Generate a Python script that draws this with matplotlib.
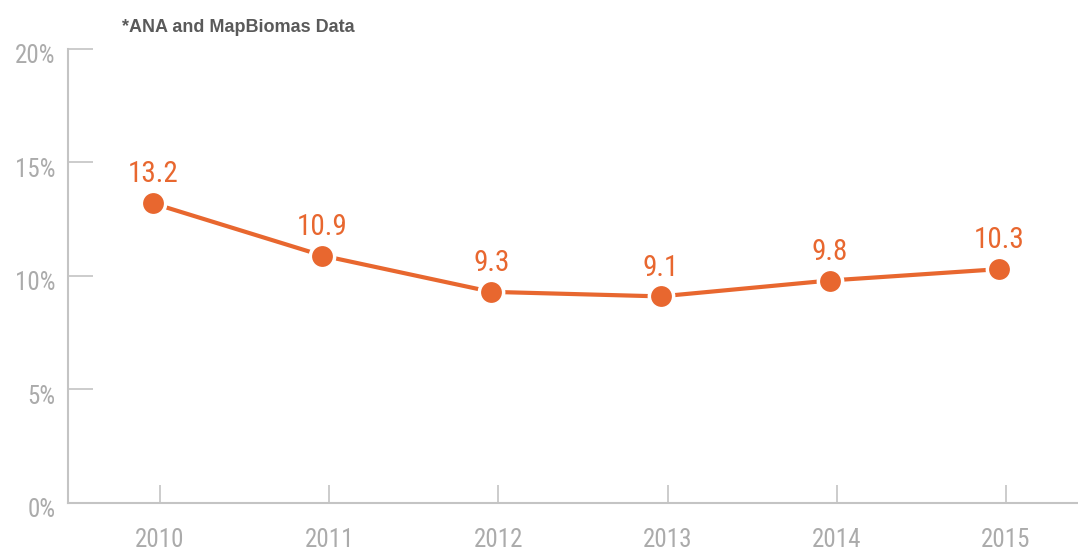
import numpy as np
import matplotlib
matplotlib.use("Agg")
from matplotlib import pyplot as plt
from matplotlib.transforms import ScaledTranslation

years = [2010, 2011, 2012, 2013, 2014, 2015]
values = [13.2, 10.9, 9.3, 9.1, 9.8, 10.3]
yticks = [0, 5, 10, 15, 20]
note = "*ANA and MapBiomas Data"

orange = "#e8672f"
grey = "#ababab"
narrow = ["Roboto Condensed", "Liberation Sans Narrow", "Liberation Sans", "DejaVu Sans"]

fig = plt.figure(figsize=(10.78, 5.5), dpi=100)
ax = fig.add_axes([0.063, 0.0855, 0.937, 0.8255])

# points sit a few pixels left of the year ticks in the original
shift = ax.transData + ScaledTranslation(-7 / 100, 0, fig.dpi_scale_trans)
ax.plot(years, values, color=orange, lw=3, marker="o", ms=17.5,
        mfc=orange, mec="white", mew=2.5, transform=shift, zorder=3,
        solid_capstyle="butt")
for x, v in zip(years, values):
    ax.annotate(f"{v:.1f}", (x, v), xycoords=shift, xytext=(0, 15),
                textcoords="offset points", ha="center", va="baseline",
                color=orange, fontsize=21, family=narrow)

ax.set_xlim(2009.456, 2015.426)
ax.set_ylim(0, 20)
ax.set_xticks(years)
ax.set_xticklabels([str(y) for y in years])
ax.set_yticks(yticks)
ax.set_yticklabels([f"{t}%" for t in yticks])

for s in ["top", "right"]:
    ax.spines[s].set_visible(False)
for s in ["left", "bottom"]:
    ax.spines[s].set_color("#c4c4c4")
    ax.spines[s].set_linewidth(1.5)

ax.tick_params(axis="x", direction="in", length=13, width=1.2, color="#c4c4c4",
               pad=18, labelcolor=grey, labelsize=18)
ax.tick_params(axis="y", direction="in", length=18, width=1.2, color="#c4c4c4",
               pad=9, labelcolor=grey, labelsize=18)
for lab in ax.get_xticklabels() + ax.get_yticklabels():
    lab.set_family(narrow)
# y labels sit a little below their ticks
down = ScaledTranslation(0, -5 / 100, fig.dpi_scale_trans)
for lab in ax.get_yticklabels():
    lab.set_transform(lab.get_transform() + down)

fig.text(122 / 1078, 1 - 32 / 550, note, fontsize=13, fontweight="bold",
         color="#5a5a5a", family=["Liberation Sans", "DejaVu Sans"],
         va="baseline")

fig.savefig("out.png", dpi=100)
